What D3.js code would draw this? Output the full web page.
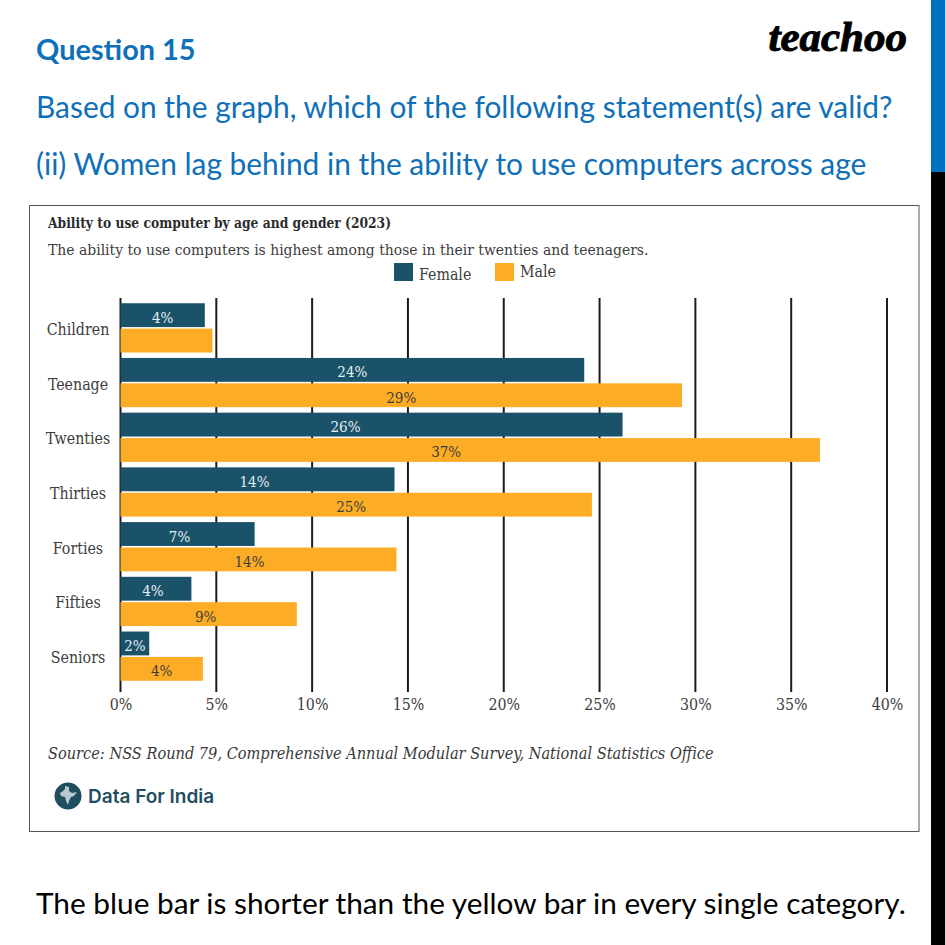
<!DOCTYPE html>
<html>
<head>
<meta charset="utf-8">
<script src="https://cdn.jsdelivr.net/npm/d3@7"></script>
<style>
  body { margin: 0; background: #fff; }
  text { font-family: "DejaVu Serif Condensed", "DejaVu Serif", serif; }
  .slide { font-family: Lato, sans-serif; fill: #0f70b7; font-size: 29.9px; }
  .cat text, .val text { font-size: 15.8px; fill: #3d3d3d; }
</style>
</head>
<body>
<div id="chart"></div>
<script>
// values
const categories = ['Children', 'Teenage', 'Twenties', 'Thirties', 'Forties', 'Fifties', 'Seniors']
const female = [4.4, 24.2, 26.2, 14.3, 7.0, 3.7, 1.5]
const male = [4.8, 29.3, 36.5, 24.6, 14.4, 9.2, 4.3]
const femaleLabels = ['4%', '24%', '26%', '14%', '7%', '4%', '2%']
const maleLabels = [null, '29%', '37%', '25%', '14%', '9%', '4%']
const ticks = [0, 5, 10, 15, 20, 25, 30, 35, 40]
const genders = ['Female', 'Male']

const blue = '#1a5269'
const orange = '#fdac25'

const svg = d3.select('#chart').append('svg')
  .attr('width', 945)
  .attr('height', 945)
  .style('display', 'block')

// slide furniture
svg.append('rect').attr('x', 931).attr('y', 0).attr('width', 14).attr('height', 172).attr('fill', '#0070c0')
svg.append('rect').attr('x', 931).attr('y', 172).attr('width', 14).attr('height', 773).attr('fill', '#000')

svg.append('text').attr('class', 'slide').attr('x', 36).attr('y', 60)
  .style('font-weight', 700).style('font-size', '28.9px').text('Question 15')
svg.append('text').attr('class', 'slide').attr('x', 36).attr('y', 118)
  .text('Based on the graph, which of the following statement(s) are valid?')
svg.append('text').attr('class', 'slide').attr('x', 36).attr('y', 175)
  .text('(ii) Women lag behind in the ability to use computers across age')
svg.append('text').attr('x', 36).attr('y', 914)
  .style('font-family', 'Lato, sans-serif').style('font-size', '29.8px').style('fill', '#000')
  .text('The blue bar is shorter than the yellow bar in every single category.')
svg.append('text').attr('x', 907).attr('y', 51).attr('text-anchor', 'end')
  .style('font-family', '"Liberation Serif", serif').style('font-style', 'italic').style('font-weight', 700)
  .style('font-size', '43px').style('fill', '#000').style('stroke', '#000').style('stroke-width', 1)
  .text('teachoo')

// chart frame
svg.append('rect').attr('x', 29.5).attr('y', 205.5).attr('width', 889.5).attr('height', 626)
  .attr('fill', '#fff').attr('stroke', '#555').attr('stroke-width', 1)

svg.append('text').attr('x', 48).attr('y', 228)
  .attr('textLength', 343).attr('lengthAdjust', 'spacingAndGlyphs')
  .style('font-size', '15.5px').style('font-weight', 700).style('fill', '#2c2c2c')
  .text('Ability to use computer by age and gender (2023)')
svg.append('text').attr('x', 48).attr('y', 255)
  .style('font-size', '15.5px').style('fill', '#3d3d3d')
  .text('The ability to use computers is highest among those in their twenties and teenagers.')

// legend
const legendX = [394, 495]
genders.forEach((g, i) => {
  svg.append('rect').attr('x', legendX[i]).attr('y', 263).attr('width', 19).attr('height', 18)
    .attr('fill', i ? orange : blue)
  svg.append('text').attr('x', legendX[i] + 25).attr('y', i ? 277 : 280)
    .style('font-size', '15.8px').style('fill', '#3d3d3d').text(g)
})

// scales
const x = d3.scaleLinear().domain([0, 40]).range([120.5, 887])
const y = d3.scaleBand().domain(categories).range([300.5, 683.5]).paddingInner(0.1).paddingOuter(0.05)
const inner = d3.scaleBand().domain(genders).range([0, y.bandwidth()]).paddingInner(0.06)

// axes
const xAxis = svg.append('g').attr('class', 'val')
  .attr('transform', 'translate(0,695)')
  .call(d3.axisBottom(x).tickValues(ticks).tickSize(0).tickPadding(4).tickFormat(d => d + '%'))
xAxis.select('.domain').remove()

svg.append('g').selectAll('line').data(ticks).enter().append('line')
  .attr('x1', d => x(d)).attr('x2', d => x(d))
  .attr('y1', 298).attr('y2', 692)
  .attr('stroke', '#1c1c1c').attr('stroke-width', 2)

const yAxis = svg.append('g').attr('class', 'cat')
  .attr('transform', 'translate(111,2)')
  .call(d3.axisLeft(y).tickSize(0).tickPadding(0))
yAxis.select('.domain').remove()
yAxis.selectAll('text').attr('text-anchor', 'middle').attr('dx', -33)

// bars, labels in the source sit a little left of centre on the long bars
function drawBars (values, labels, name, fill, textFill, nudge) {
  const g = svg.append('g')
  g.selectAll('rect').data(values).enter().append('rect')
    .attr('x', x(0))
    .attr('y', (d, i) => y(categories[i]) + inner(name))
    .attr('width', d => x(d) - x(0))
    .attr('height', inner.bandwidth())
    .attr('fill', fill)
  g.selectAll('text').data(values).enter().append('text')
    .attr('x', (d, i) => (x(d) + x(0)) / 2 + nudge[i])
    .attr('y', (d, i) => y(categories[i]) + inner(name) + inner.bandwidth() / 2 + 7.5)
    .attr('text-anchor', 'middle')
    .style('font-size', '15px')
    .style('fill', textFill)
    .text((d, i) => labels[i])
}
drawBars(female, femaleLabels, 'Female', blue, '#e6eef2', [0, 0, -26, -3, -8, -3, 0])
drawBars(male, maleLabels, 'Male', orange, '#3d3d3d', [0, 0, -24, -5, -9, -3, 0])

// source and logo
svg.append('text').attr('x', 48).attr('y', 759)
  .style('font-size', '16.2px').style('font-style', 'italic').style('fill', '#3a3a3a')
  .text('Source: NSS Round 79, Comprehensive Annual Modular Survey, National Statistics Office')
svg.append('circle').attr('cx', 68).attr('cy', 796).attr('r', 13.5).attr('fill', '#1f4e5f')
svg.append('path').attr('d', 'M65 786l4 1 0 4 3 2 5-1-3 4-3 1-2 4-1 4-2-4-1-4-4-1-1-3 3-2 2-2z').attr('fill', '#b9c9cf')
svg.append('text').attr('x', 88).attr('y', 803)
  .style('font-family', 'Inter, sans-serif').style('font-weight', 600)
  .style('font-size', '19px').style('fill', '#1f4e5f')
  .text('Data For India')
</script>
</body>
</html>
